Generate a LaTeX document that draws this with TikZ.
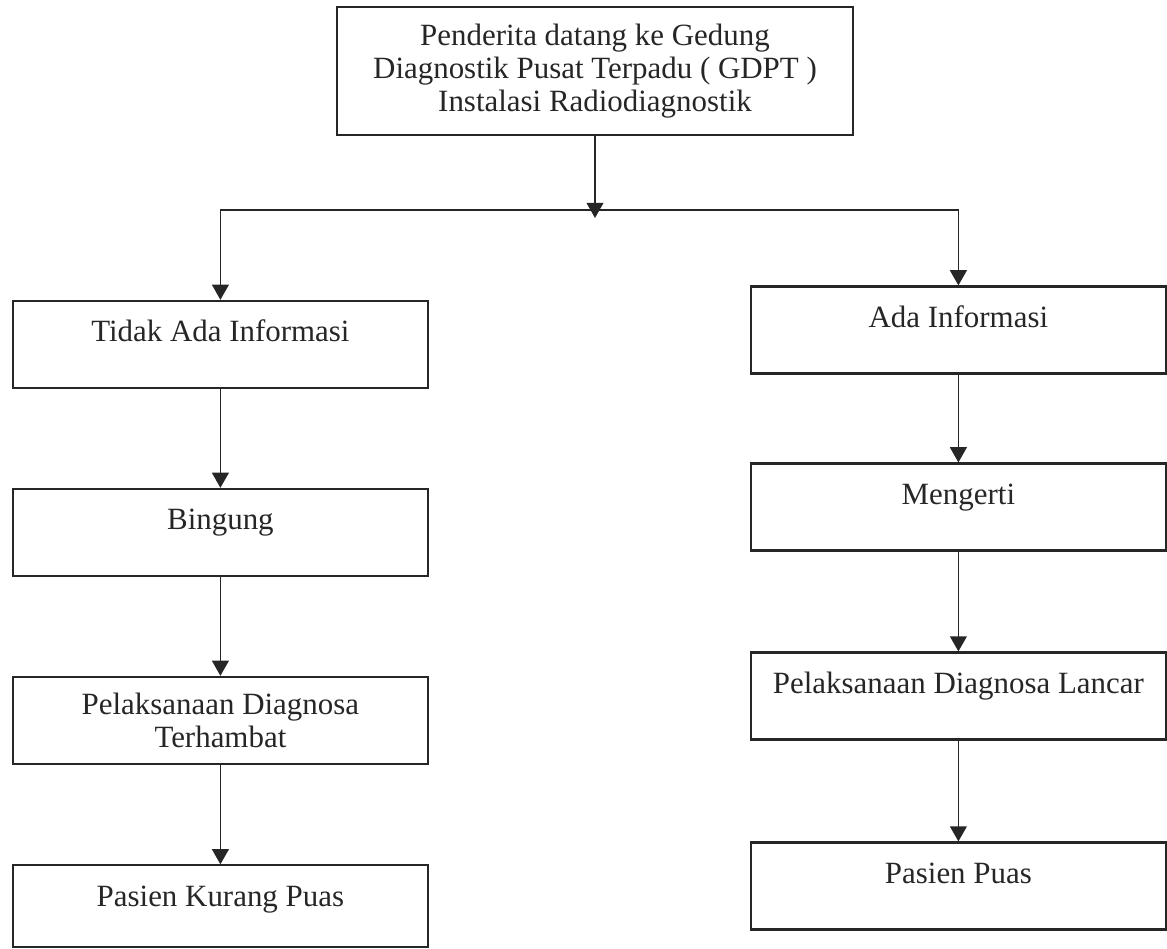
\documentclass[tikz,border=0pt]{standalone}
\usepackage{xcolor}
\usepackage{fontspec}
\usepackage{tikz}
\usetikzlibrary{arrows.meta}
\setmainfont{Liberation Serif}
\definecolor{ink}{HTML}{262626}

\begin{document}
\begin{tikzpicture}[node distance=4.7cm, font=\fontsize{22}{23.5}\selectfont,
    >={Triangle[length=0.38cm,width=0.42cm]},
    box/.style={draw=ink, text=ink, line width=1.5pt, inner sep=0pt, align=center, minimum width=10.375cm, minimum height=2.175cm},
    topbox/.style={box, text height=1.025cm, text depth=1.15cm},
    link/.style={draw=ink, line width=1.2pt}]

        \useasboundingbox (0,0) rectangle (29.175,-23.725);

        % Nodes
        \node (penderita) [box, minimum width=12.9cm, minimum height=3.2cm] at (14.875,-1.775) {Penderita datang ke Gedung\\Diagnostik Pusat Terpadu ( GDPT )\\Instalasi Radiodiagnostik};
        \coordinate (cabang) at (14.875,-5.25);

        \node (tidakada) [topbox] at (5.51,-8.61) {Tidak Ada Informasi};
        \node (bingung) [below of=tidakada, topbox] {Bingung};
        \node (terhambat) [below of=bingung, box] {Pelaksanaan Diagnosa\\Terhambat};
        \node (kurangpuas) [below of=terhambat, node distance=4.65cm, topbox, minimum height=2.05cm, text depth=1.025cm] {Pasien Kurang Puas};

        \node (ada) [topbox] at (23.96,-8.25) {Ada Informasi};
        \node (mengerti) [below of=ada, node distance=4.425cm, topbox] {Mengerti};
        \node (lancar) [below of=mengerti, node distance=4.725cm, topbox] {Pelaksanaan Diagnosa Lancar};
        \node (puas) [below of=lancar, node distance=4.75cm, topbox] {Pasien Puas};

        % Arrows
        \draw[link, ->, shorten >=-0.2cm] (penderita) -- (cabang);
        \draw[link, ->] (cabang) -| (tidakada);
        \draw[link, ->] (cabang) -| (ada);
        \foreach \i/\j in {tidakada/bingung, bingung/terhambat, terhambat/kurangpuas, ada/mengerti, mengerti/lancar, lancar/puas} {
            \draw[link, ->] (\i) -- (\j);
        }

    \end{tikzpicture}
\end{document}
